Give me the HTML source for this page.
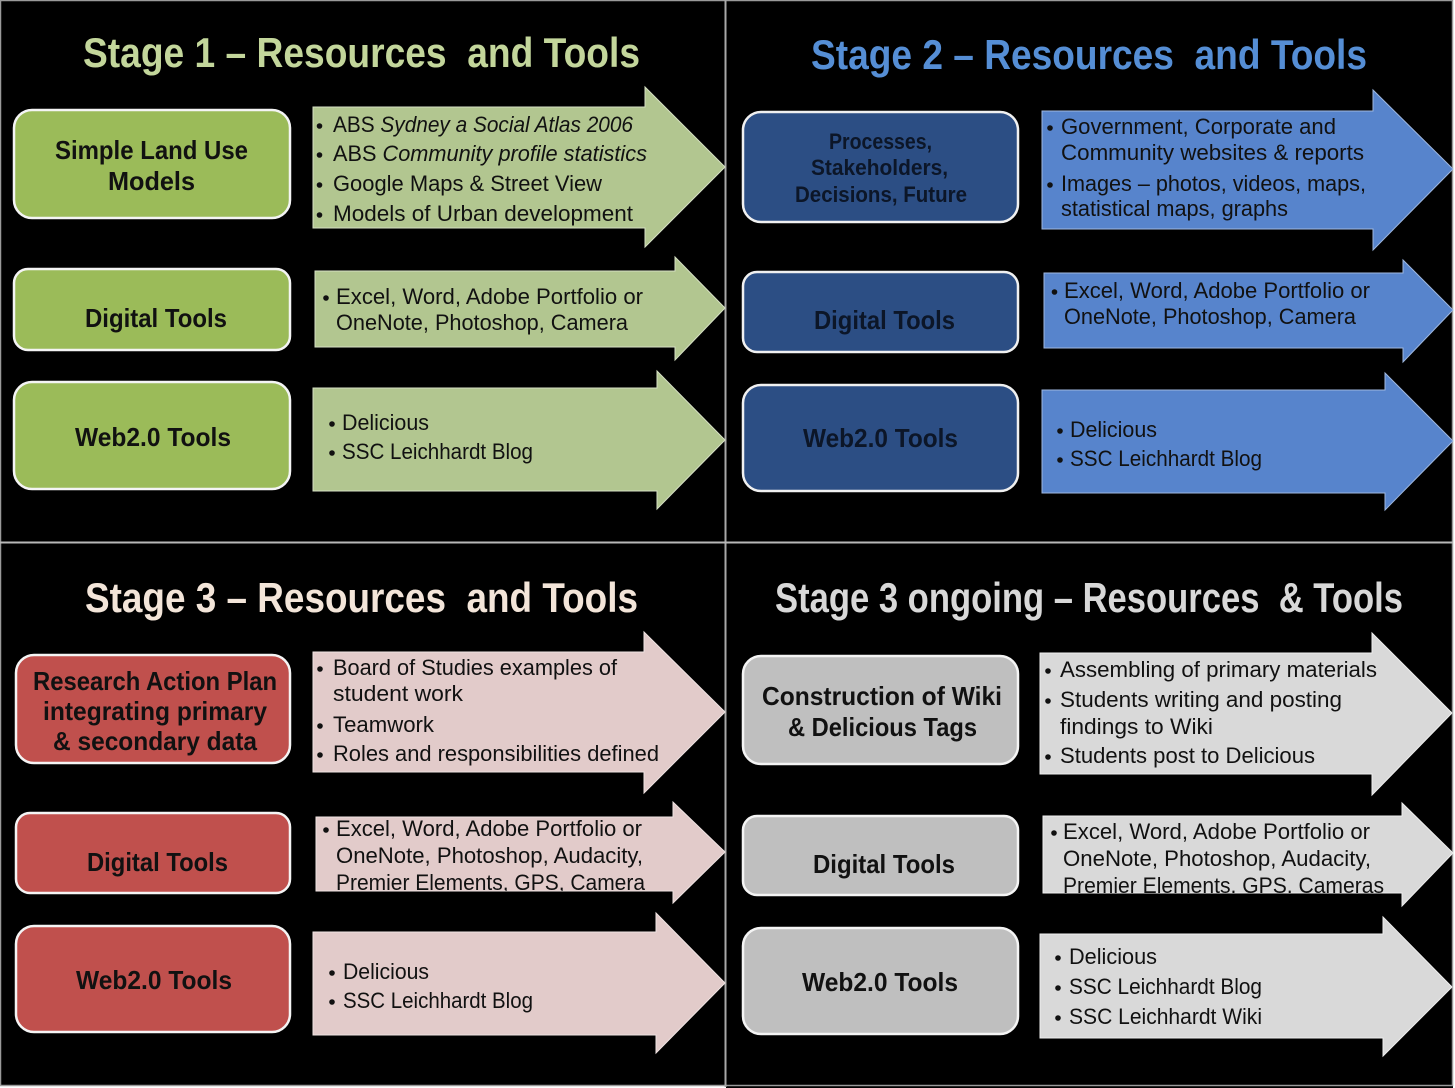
<!DOCTYPE html>
<html>
<head>
<meta charset="utf-8">
<style>
  html,body{margin:0;padding:0;background:#fff;}
  svg{display:block;}
  text{font-family:"Liberation Sans", Arial, sans-serif;}
  .t{font-size:42px;font-weight:bold;}
  .b{font-size:26px;font-weight:bold;}
  .bs{font-size:22px;font-weight:bold;}
  .l{font-size:22px;fill:#111;}
</style>
</head>
<body>
<svg width="1455" height="1088" viewBox="0 0 1455 1088" xmlns="http://www.w3.org/2000/svg">
  <defs>
    <clipPath id="c3"><polygon points="316,817 673,817 673,802 725,852 673,903 673,891 316,891"/></clipPath>
    <clipPath id="c4"><polygon points="1043,816 1402,816 1402,803 1453,853 1402,906 1402,893 1043,893"/></clipPath>
  </defs>
  <rect x="0" y="0" width="1455" height="1088" fill="#fff"/>
  <rect x="0" y="0" width="726" height="1086" fill="#000"/>
  <rect x="726" y="0" width="727" height="1088" fill="#000"/>
  <!-- borders -->
  <rect x="0.5" y="0.5" width="1452" height="1085" fill="none" stroke="#9a9a9a" stroke-width="1.5"/>
  <line x1="725.5" y1="0" x2="725.5" y2="1087" stroke="#a8a8a8" stroke-width="2"/>
  <line x1="0" y1="542.5" x2="1453" y2="542.5" stroke="#b8b8b8" stroke-width="2"/>

  <!-- ============ Q1 ============ -->
  <text class="t" x="83" y="67" fill="#c3d69b" textLength="557" lengthAdjust="spacingAndGlyphs">Stage 1 – Resources&#160; and Tools</text>

  <g fill="#9bbb59" stroke="#f4f4f4" stroke-width="2.5">
    <rect x="14" y="110" width="276" height="108" rx="18"/>
    <rect x="14" y="269" width="276" height="81" rx="14"/>
    <rect x="14" y="382" width="276" height="107" rx="18"/>
  </g>
  <g fill="#111">
    <text class="b" x="55" y="159" textLength="193" lengthAdjust="spacingAndGlyphs">Simple Land Use</text>
    <text class="b" x="108" y="190" textLength="87" lengthAdjust="spacingAndGlyphs">Models</text>
    <text class="b" x="85" y="327" textLength="142" lengthAdjust="spacingAndGlyphs">Digital Tools</text>
    <text class="b" x="75" y="446" textLength="156" lengthAdjust="spacingAndGlyphs">Web2.0 Tools</text>
  </g>

  <g fill="#b2c690" stroke="#d6e0c4" stroke-width="1">
    <polygon points="313,107 645,107 645,87 725,167 645,247 645,228 313,228"/>
    <polygon points="315,271 675,271 675,257 725,308 675,360 675,347 315,347"/>
    <polygon points="313,388 657,388 657,371 725,440 657,509 657,491 313,491"/>
  </g>
  <g fill="#111">
    <circle cx="319.5" cy="126" r="2.8"/>
    <circle cx="319.5" cy="155" r="2.8"/>
    <circle cx="319.5" cy="185" r="2.8"/>
    <circle cx="319.5" cy="215" r="2.8"/>
    <text class="l" x="333" y="132" textLength="300" lengthAdjust="spacingAndGlyphs">ABS <tspan font-style="italic">Sydney a Social Atlas 2006</tspan></text>
    <text class="l" x="333" y="161" textLength="314" lengthAdjust="spacingAndGlyphs">ABS <tspan font-style="italic">Community profile statistics</tspan></text>
    <text class="l" x="333" y="191" textLength="269" lengthAdjust="spacingAndGlyphs">Google Maps &amp; Street View</text>
    <text class="l" x="333" y="221" textLength="300" lengthAdjust="spacingAndGlyphs">Models of Urban development</text>

    <circle cx="326" cy="298" r="2.8"/>
    <text class="l" x="336" y="304" textLength="307" lengthAdjust="spacingAndGlyphs">Excel, Word, Adobe Portfolio or</text>
    <text class="l" x="336" y="330" textLength="292" lengthAdjust="spacingAndGlyphs">OneNote, Photoshop, Camera</text>

    <circle cx="332" cy="424" r="2.8"/>
    <circle cx="332" cy="453" r="2.8"/>
    <text class="l" x="342" y="430" textLength="87" lengthAdjust="spacingAndGlyphs">Delicious</text>
    <text class="l" x="342" y="459" textLength="191" lengthAdjust="spacingAndGlyphs">SSC Leichhardt Blog</text>
  </g>

  <!-- ============ Q2 ============ -->
  <text class="t" x="811" y="69" fill="#558ed5" textLength="556" lengthAdjust="spacingAndGlyphs">Stage 2 – Resources&#160; and Tools</text>

  <g fill="#2c4e84" stroke="#f0f0f0" stroke-width="2.5">
    <rect x="743" y="112" width="275" height="110" rx="18"/>
    <rect x="743" y="272" width="275" height="80" rx="14"/>
    <rect x="743" y="385" width="275" height="106" rx="18"/>
  </g>
  <g fill="#0c1628">
    <text class="bs" x="829" y="149" textLength="103" lengthAdjust="spacingAndGlyphs">Processes,</text>
    <text class="bs" x="811" y="175" textLength="137" lengthAdjust="spacingAndGlyphs">Stakeholders,</text>
    <text class="bs" x="795" y="202" textLength="172" lengthAdjust="spacingAndGlyphs">Decisions, Future</text>
    <text class="b" x="814" y="329" textLength="141" lengthAdjust="spacingAndGlyphs">Digital Tools</text>
    <text class="b" x="803" y="447" textLength="155" lengthAdjust="spacingAndGlyphs">Web2.0 Tools</text>
  </g>

  <g fill="#5784cc" stroke="#9fb8e0" stroke-width="1">
    <polygon points="1042,111 1373,111 1373,90 1453,169 1373,250 1373,229 1042,229"/>
    <polygon points="1044,273 1403,273 1403,260 1453,310 1403,362 1403,348 1044,348"/>
    <polygon points="1042,390 1385,390 1385,373 1453,441 1385,510 1385,493 1042,493"/>
  </g>
  <g fill="#111">
    <circle cx="1050" cy="128" r="2.8"/>
    <circle cx="1050" cy="185" r="2.8"/>
    <text class="l" x="1061" y="134" textLength="275" lengthAdjust="spacingAndGlyphs">Government, Corporate and</text>
    <text class="l" x="1061" y="160" textLength="303" lengthAdjust="spacingAndGlyphs">Community websites &amp; reports</text>
    <text class="l" x="1061" y="191" textLength="305" lengthAdjust="spacingAndGlyphs">Images – photos, videos, maps,</text>
    <text class="l" x="1061" y="216" textLength="227" lengthAdjust="spacingAndGlyphs">statistical maps, graphs</text>

    <circle cx="1054.5" cy="292" r="2.8"/>
    <text class="l" x="1064" y="298" textLength="306" lengthAdjust="spacingAndGlyphs">Excel, Word, Adobe Portfolio or</text>
    <text class="l" x="1064" y="324" textLength="292" lengthAdjust="spacingAndGlyphs">OneNote, Photoshop, Camera</text>

    <circle cx="1060" cy="431" r="2.8"/>
    <circle cx="1060" cy="460" r="2.8"/>
    <text class="l" x="1070" y="437" textLength="87" lengthAdjust="spacingAndGlyphs">Delicious</text>
    <text class="l" x="1070" y="466" textLength="192" lengthAdjust="spacingAndGlyphs">SSC Leichhardt Blog</text>
  </g>

  <!-- ============ Q3 ============ -->
  <text class="t" x="85" y="612" fill="#f3e5d9" textLength="553" lengthAdjust="spacingAndGlyphs">Stage 3 – Resources&#160; and Tools</text>

  <g fill="#c0504d" stroke="#f4f4f4" stroke-width="2.5">
    <rect x="16" y="655" width="274" height="108" rx="18"/>
    <rect x="16" y="813" width="274" height="80" rx="14"/>
    <rect x="16" y="926" width="274" height="106" rx="18"/>
  </g>
  <g fill="#111">
    <text class="b" x="33" y="690" textLength="244" lengthAdjust="spacingAndGlyphs">Research Action Plan</text>
    <text class="b" x="43" y="720" textLength="224" lengthAdjust="spacingAndGlyphs">integrating primary</text>
    <text class="b" x="53" y="750" textLength="204" lengthAdjust="spacingAndGlyphs">&amp; secondary data</text>
    <text class="b" x="87" y="871" textLength="141" lengthAdjust="spacingAndGlyphs">Digital Tools</text>
    <text class="b" x="76" y="989" textLength="156" lengthAdjust="spacingAndGlyphs">Web2.0 Tools</text>
  </g>

  <g fill="#e2cbca" stroke="#efe3e2" stroke-width="1">
    <polygon points="313,652 644,652 644,632 725,712 644,793 644,772 313,772"/>
    <polygon points="316,817 673,817 673,802 725,852 673,903 673,891 316,891"/>
    <polygon points="313,932 656,932 656,913 725,983 656,1053 656,1035 313,1035"/>
  </g>
  <g fill="#111">
    <circle cx="320" cy="669" r="2.8"/>
    <circle cx="320" cy="726" r="2.8"/>
    <circle cx="320" cy="755" r="2.8"/>
    <text class="l" x="333" y="675" textLength="284" lengthAdjust="spacingAndGlyphs">Board of Studies examples of</text>
    <text class="l" x="333" y="701" textLength="130" lengthAdjust="spacingAndGlyphs">student work</text>
    <text class="l" x="333" y="732" textLength="101" lengthAdjust="spacingAndGlyphs">Teamwork</text>
    <text class="l" x="333" y="761" textLength="326" lengthAdjust="spacingAndGlyphs">Roles and responsibilities defined</text>

    <circle cx="326" cy="830" r="2.8"/>
    <g clip-path="url(#c3)">
      <text class="l" x="336" y="836" textLength="306" lengthAdjust="spacingAndGlyphs">Excel, Word, Adobe Portfolio or</text>
      <text class="l" x="336" y="863" textLength="307" lengthAdjust="spacingAndGlyphs">OneNote, Photoshop, Audacity,</text>
      <text class="l" x="336" y="890" textLength="309" lengthAdjust="spacingAndGlyphs">Premier Elements, GPS, Camera</text>
    </g>

    <circle cx="332" cy="973" r="2.8"/>
    <circle cx="332" cy="1002" r="2.8"/>
    <text class="l" x="343" y="979" textLength="86" lengthAdjust="spacingAndGlyphs">Delicious</text>
    <text class="l" x="343" y="1008" textLength="190" lengthAdjust="spacingAndGlyphs">SSC Leichhardt Blog</text>
  </g>

  <!-- ============ Q4 ============ -->
  <text class="t" x="775" y="612" fill="#d8d8d8" textLength="628" lengthAdjust="spacingAndGlyphs">Stage 3 ongoing – Resources&#160; &amp; Tools</text>

  <g fill="#bfbfbf" stroke="#f4f4f4" stroke-width="2.5">
    <rect x="743" y="656" width="275" height="108" rx="18"/>
    <rect x="743" y="816" width="275" height="79" rx="14"/>
    <rect x="743" y="928" width="275" height="106" rx="18"/>
  </g>
  <g fill="#111">
    <text class="b" x="762" y="705" textLength="240" lengthAdjust="spacingAndGlyphs">Construction of Wiki</text>
    <text class="b" x="788" y="736" textLength="189" lengthAdjust="spacingAndGlyphs">&amp; Delicious Tags</text>
    <text class="b" x="813" y="873" textLength="142" lengthAdjust="spacingAndGlyphs">Digital Tools</text>
    <text class="b" x="802" y="991" textLength="156" lengthAdjust="spacingAndGlyphs">Web2.0 Tools</text>
  </g>

  <g fill="#d9d9d9" stroke="#eeeeee" stroke-width="1">
    <polygon points="1040,653 1372,653 1372,633 1452,713 1372,795 1372,774 1040,774"/>
    <polygon points="1043,816 1402,816 1402,803 1453,853 1402,906 1402,893 1043,893"/>
    <polygon points="1040,934 1383,934 1383,917 1452,987 1383,1056 1383,1038 1040,1038"/>
  </g>
  <g fill="#111">
    <circle cx="1048" cy="671" r="2.8"/>
    <circle cx="1048" cy="701" r="2.8"/>
    <circle cx="1048" cy="757" r="2.8"/>
    <text class="l" x="1060" y="677" textLength="317" lengthAdjust="spacingAndGlyphs">Assembling of primary materials</text>
    <text class="l" x="1060" y="707" textLength="282" lengthAdjust="spacingAndGlyphs">Students writing and posting</text>
    <text class="l" x="1060" y="734" textLength="153" lengthAdjust="spacingAndGlyphs">findings to Wiki</text>
    <text class="l" x="1060" y="763" textLength="255" lengthAdjust="spacingAndGlyphs">Students post to Delicious</text>

    <circle cx="1054" cy="833" r="2.8"/>
    <g clip-path="url(#c4)">
      <text class="l" x="1063" y="839" textLength="307" lengthAdjust="spacingAndGlyphs">Excel, Word, Adobe Portfolio or</text>
      <text class="l" x="1063" y="866" textLength="308" lengthAdjust="spacingAndGlyphs">OneNote, Photoshop, Audacity,</text>
      <text class="l" x="1063" y="893" textLength="321" lengthAdjust="spacingAndGlyphs">Premier Elements, GPS, Cameras</text>
    </g>

    <circle cx="1058" cy="958" r="2.8"/>
    <circle cx="1058" cy="988" r="2.8"/>
    <circle cx="1058" cy="1018" r="2.8"/>
    <text class="l" x="1069" y="964" textLength="88" lengthAdjust="spacingAndGlyphs">Delicious</text>
    <text class="l" x="1069" y="994" textLength="193" lengthAdjust="spacingAndGlyphs">SSC Leichhardt Blog</text>
    <text class="l" x="1069" y="1024" textLength="193" lengthAdjust="spacingAndGlyphs">SSC Leichhardt Wiki</text>
  </g>
</svg>
</body>
</html>
